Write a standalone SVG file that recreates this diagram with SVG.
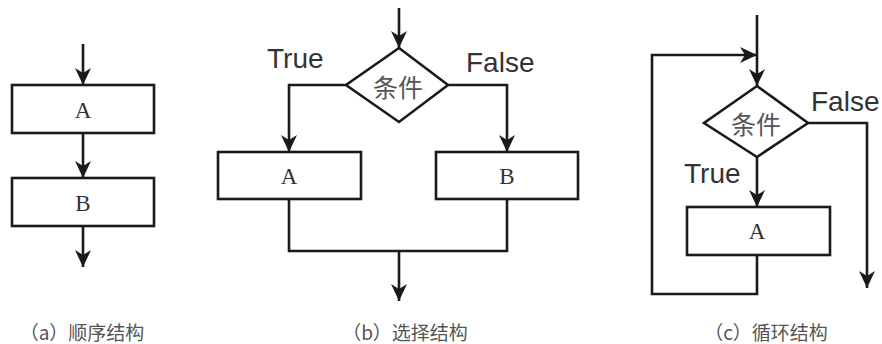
<svg xmlns="http://www.w3.org/2000/svg" width="882" height="344" viewBox="0 0 882 344">
<defs>
<marker id="arr" markerUnits="userSpaceOnUse" markerWidth="18" markerHeight="17" refX="17" refY="8" orient="auto">
<path d="M0,0 L17,8 L0,16 L5,8 z" fill="#1a1a1a"/>
</marker>
<style>
.ln{fill:none;stroke:#1a1a1a;stroke-width:2.6;}
.ar{fill:none;stroke:#1a1a1a;stroke-width:2.6;marker-end:url(#arr);}
.box{fill:#fff;stroke:#1a1a1a;stroke-width:2.6;}
.lbl{font-family:"Liberation Serif",serif;font-size:23px;fill:#333;text-anchor:middle;dominant-baseline:central;}
.cond{font-family:"Noto Sans CJK SC",sans-serif;font-size:25px;fill:#555;text-anchor:middle;dominant-baseline:central;}
.tf{font-family:"Liberation Sans",sans-serif;font-size:28px;fill:#333;}
.cap{font-family:"Noto Sans CJK SC",sans-serif;font-size:19px;fill:#555;text-anchor:middle;dominant-baseline:central;}
</style>
</defs>
<rect width="882" height="344" fill="#fff"/>

<g id="connectors">
<line class="ar" x1="83" y1="44" x2="83" y2="85"/>
<line class="ar" x1="83" y1="133" x2="83" y2="178"/>
<line class="ar" x1="83" y1="226" x2="83" y2="267"/>
<line class="ar" x1="399" y1="8" x2="399" y2="48"/>
<polyline class="ar" points="346,85 289,85 289,152"/>
<polyline class="ar" points="448,85 507,85 507,152"/>
<polyline class="ln" points="289,199 289,251 507,251 507,199"/>
<line class="ar" x1="399" y1="251" x2="399" y2="301"/>
<line class="ar" x1="757" y1="15" x2="757" y2="86"/>
<polyline class="ar" points="757,255 757,294 652,294 652,55 757,55"/>
<polyline class="ar" points="808,123 867,123 867,288"/>
<line class="ar" x1="757" y1="157" x2="757" y2="207"/>
</g>

<g id="a-A"><rect class="box" x="12" y="85" width="142" height="48"/><text class="lbl" x="83" y="110">A</text></g>
<g id="a-B"><rect class="box" x="12" y="178" width="142" height="48"/><text class="lbl" x="83" y="203">B</text></g>
<g id="a-caption"><text class="cap" x="82" y="331">（a）顺序结构</text></g>

<g id="b-cond"><polygon class="box" points="399,48 448,85 399,122 346,85"/><text class="cond" x="398" y="86">条件</text></g>
<g id="b-A"><rect class="box" x="218" y="152" width="143" height="47"/><text class="lbl" x="289" y="176">A</text></g>
<g id="b-B"><rect class="box" x="436" y="152" width="142" height="47"/><text class="lbl" x="507" y="176">B</text></g>
<g id="b-labels"><text class="tf" x="267" y="68">True</text><text class="tf" x="466" y="72">False</text></g>
<g id="b-caption"><text class="cap" x="405" y="331">（b）选择结构</text></g>

<g id="c-cond"><polygon class="box" points="757,86 808,123 757,157 704,123"/><text class="cond" x="756" y="123">条件</text></g>
<g id="c-A"><rect class="box" x="687" y="207" width="143" height="48"/><text class="lbl" x="757" y="231">A</text></g>
<g id="c-labels"><text class="tf" x="811" y="111">False</text><text class="tf" x="684" y="183">True</text></g>
<g id="c-caption"><text class="cap" x="766" y="331">（c）循环结构</text></g>
</svg>
